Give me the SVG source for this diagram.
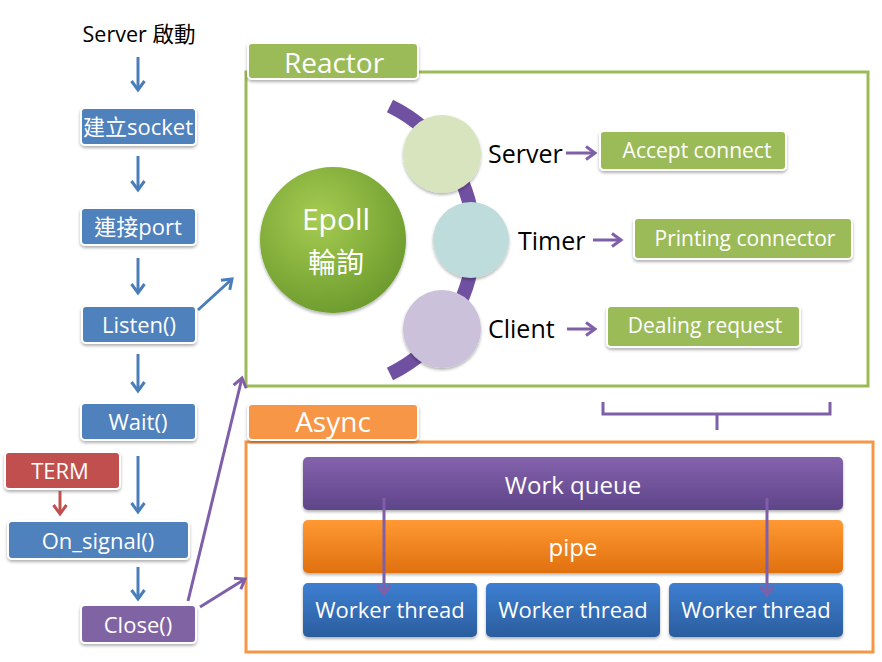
<svg xmlns="http://www.w3.org/2000/svg" width="882" height="662" viewBox="0 0 882 662">
<defs>
<style>
.t{font-family:"Open Sans","Noto Sans CJK TC",sans-serif;fill:#fff;text-anchor:middle;dominant-baseline:central}
.k{font-family:"Open Sans","Noto Sans CJK TC",sans-serif;fill:#000;dominant-baseline:central}
.box{stroke:#fff;stroke-width:2;filter:url(#sh)}
.blue{fill:#4F81BD}
.green{fill:#9BBB59}
.ab{stroke:#4A7EBB;stroke-width:3;fill:none;marker-end:url(#mb)}
.ap{stroke:#7F5FA8;stroke-width:3;fill:none;marker-end:url(#mp)}
.ar{stroke:#C0504D;stroke-width:3;fill:none;marker-end:url(#mr)}
</style>
<filter id="sh" x="-10%" y="-20%" width="120%" height="150%">
<feDropShadow dx="0" dy="2" stdDeviation="1.5" flood-color="#000" flood-opacity="0.3"/>
</filter>
<marker id="mb" markerUnits="userSpaceOnUse" markerWidth="18" markerHeight="18" refX="11" refY="9" orient="auto">
<path d="M2,2.5 L11,9 L2,15.5" fill="none" stroke="#4A7EBB" stroke-width="3"/>
</marker>
<marker id="mp" markerUnits="userSpaceOnUse" markerWidth="18" markerHeight="18" refX="11" refY="9" orient="auto">
<path d="M2,2.5 L11,9 L2,15.5" fill="none" stroke="#7F5FA8" stroke-width="3"/>
</marker>
<marker id="mr" markerUnits="userSpaceOnUse" markerWidth="18" markerHeight="18" refX="11" refY="9" orient="auto">
<path d="M2,2.5 L11,9 L2,15.5" fill="none" stroke="#C0504D" stroke-width="3"/>
</marker>
<radialGradient id="gEpoll" cx="40%" cy="35%" r="70%">
<stop offset="0" stop-color="#A6CC52"/>
<stop offset="1" stop-color="#6B9A2C"/>
</radialGradient>
<linearGradient id="gWq" x1="0" y1="0" x2="0" y2="1">
<stop offset="0" stop-color="#8462AC"/>
<stop offset="1" stop-color="#5E4589"/>
</linearGradient>
<linearGradient id="gPipe" x1="0" y1="0" x2="0" y2="1">
<stop offset="0" stop-color="#FF9933"/>
<stop offset="1" stop-color="#E0700E"/>
</linearGradient>
<linearGradient id="gW" x1="0" y1="0" x2="0" y2="1">
<stop offset="0" stop-color="#3D7FD2"/>
<stop offset="1" stop-color="#2B5D9E"/>
</linearGradient>
</defs>
<rect width="882" height="662" fill="#fff"/>

<!-- containers -->
<g id="reactor">
<rect x="246" y="72" width="622" height="314" fill="none" stroke="#9BBB59" stroke-width="3"/>
<rect class="box green" x="248" y="43" width="170" height="36" rx="4"/>
<text class="t" x="334" y="62" font-size="28">Reactor</text>
</g>
<g id="async">
<rect x="246" y="442" width="627" height="210" fill="none" stroke="#F79646" stroke-width="3"/>
<rect class="box" fill="#F79646" x="248" y="404" width="170" height="36" rx="4"/>
<text class="t" x="333" y="421" font-size="28">Async</text>
</g>

<!-- purple arc behind circles -->
<g id="arc">
<path d="M390,106 A149,149 0 0 1 390,374" fill="none" stroke="#7050A0" stroke-width="14"/>
</g>

<g id="epoll">
<circle cx="333" cy="240" r="73" fill="url(#gEpoll)" filter="url(#sh)"/>
<text class="t" x="336" y="218" font-size="30">Epoll</text>
<text class="t" x="336" y="262" font-size="28">輪詢</text>
</g>
<g id="c-server"><circle cx="442" cy="154" r="39" fill="#D7E4BD" filter="url(#sh)"/></g>
<g id="c-timer"><circle cx="471" cy="240" r="38" fill="#BFDCDC" filter="url(#sh)"/></g>
<g id="c-client"><circle cx="442" cy="329" r="39" fill="#CCC1DA" filter="url(#sh)"/></g>

<g id="lbl-server"><text class="k" x="488" y="153" font-size="25">Server</text></g>
<g id="lbl-timer"><text class="k" x="518" y="240" font-size="25">Timer</text></g>
<g id="lbl-client"><text class="k" x="488" y="328" font-size="25">Client</text></g>

<g id="accept"><rect class="box green" x="600" y="131" width="186" height="39" rx="4"/>
<text class="t" x="697" y="150" font-size="21">Accept connect</text></g>
<g id="printing"><rect class="box green" x="634" y="218" width="218" height="41" rx="4"/>
<text class="t" x="745" y="238" font-size="21">Printing connector</text></g>
<g id="dealing"><rect class="box green" x="607" y="306" width="193" height="41" rx="4"/>
<text class="t" x="705" y="325" font-size="21">Dealing request</text></g>

<g id="brace">
<path d="M603,402 V414 H830 V402 M717,414 V430" fill="none" stroke="#7F5FA8" stroke-width="3"/>
</g>

<!-- async internals -->
<g id="workqueue"><rect x="303" y="457" width="540" height="53" rx="5" fill="url(#gWq)" filter="url(#sh)"/>
<text class="t" x="573" y="484" font-size="24">Work queue</text></g>
<g id="pipe"><rect x="303" y="520" width="540" height="53" rx="5" fill="url(#gPipe)" filter="url(#sh)"/>
<text class="t" x="573" y="546" font-size="24">pipe</text></g>
<g id="worker1"><rect x="303" y="583" width="174" height="54" rx="5" fill="url(#gW)" filter="url(#sh)"/>
<text class="t" x="390" y="609" font-size="22">Worker thread</text></g>
<g id="worker2"><rect x="486" y="583" width="174" height="54" rx="5" fill="url(#gW)" filter="url(#sh)"/>
<text class="t" x="573" y="609" font-size="22">Worker thread</text></g>
<g id="worker3"><rect x="669" y="583" width="174" height="54" rx="5" fill="url(#gW)" filter="url(#sh)"/>
<text class="t" x="756" y="609" font-size="22">Worker thread</text></g>

<!-- left flow -->
<g id="start"><text class="k" x="139" y="33" font-size="21.5" text-anchor="middle">Server 啟動</text></g>
<g id="socket"><rect class="box blue" x="81" y="108" width="115" height="37" rx="4"/>
<text class="t" x="138" y="126" font-size="22">建立socket</text></g>
<g id="port"><rect class="box blue" x="81" y="208" width="115" height="37" rx="4"/>
<text class="t" x="138" y="226" font-size="22">連接port</text></g>
<g id="listen"><rect class="box blue" x="82" y="306" width="114" height="37" rx="4"/>
<text class="t" x="139" y="324" font-size="22">Listen()</text></g>
<g id="wait"><rect class="box blue" x="81" y="403" width="115" height="37" rx="4"/>
<text class="t" x="138" y="421" font-size="22">Wait()</text></g>
<g id="term"><rect class="box" fill="#C0504D" x="5" y="452" width="115" height="37" rx="4"/>
<text class="t" x="60" y="470" font-size="22">TERM</text></g>
<g id="onsignal"><rect class="box blue" x="8" y="521" width="181" height="38" rx="4"/>
<text class="t" x="98" y="540" font-size="22">On_signal()</text></g>
<g id="close"><rect class="box" fill="#8064A2" x="81" y="605" width="115" height="38" rx="4"/>
<text class="t" x="138" y="624" font-size="22">Close()</text></g>

<g id="connectors">
<path class="ab" d="M138,57 V90"/>
<path class="ab" d="M138,156 V190"/>
<path class="ab" d="M138,258 V293"/>
<path class="ab" d="M198,310 L232,279"/>
<path class="ab" d="M138,354 V391"/>
<path class="ab" d="M138,456 V512"/>
<path class="ar" d="M60,491 V514"/>
<path class="ab" d="M138,567 V599"/>
<path class="ap" d="M188,601 L242,378"/>
<path class="ap" d="M200,607 L245,579"/>
<path class="ap" d="M566,153 H595"/>
<path class="ap" d="M593,240 H621"/>
<path class="ap" d="M567,329 H595"/>
<path class="ap" d="M384,498 V594"/>
<path class="ap" d="M767,498 V595"/>
</g>
</svg>
